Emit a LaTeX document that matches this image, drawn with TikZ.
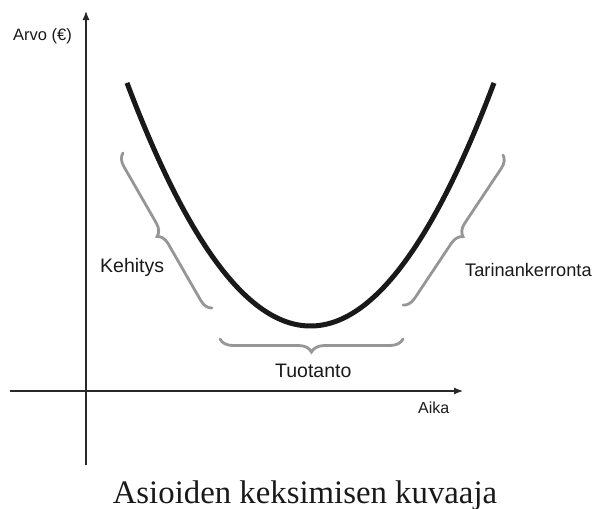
\documentclass[tikz,border=0pt]{standalone}
\usepackage{fontspec}
\setmainfont{Liberation Serif}
\newfontfamily\labelfont{Liberation Sans}
\usetikzlibrary{arrows.meta,decorations.pathreplacing}
\definecolor{bracegray}{RGB}{150,150,150}
\definecolor{axisgray}{RGB}{40,40,40}
\tikzset{
  axisline/.style={draw=axisgray, line width=1.2pt, -{Latex[length=9pt,width=7pt]}},
  bracepath/.style={draw=bracegray, line width=2.8pt, line cap=round, decorate,
    decoration={brace, amplitude=#1}},
  lbl/.style={inner sep=0pt, text=black!90, font=\labelfont\fontsize{#1}{#1}\selectfont},
}
\begin{document}
\begin{tikzpicture}[x=1pt, y=-1pt]
\useasboundingbox (0,0) rectangle (603,509);
% axes
\coordinate (ybot) at (86,465);
\coordinate (ytop) at (86,11);
\coordinate (xleft) at (10,391);
\coordinate (xright) at (463,391);
\draw[axisline] (ybot) -- (ytop);
\draw[axisline] (xleft) -- (xright);
% curve
\draw[line width=5pt, black!90] plot[domain=-1.835:1.835, samples=120, smooth] ({310.5+100*\x},{326-72.2*\x*\x});
% braces
\coordinate (lbTop) at (123,153);
\coordinate (lbBot) at (212,308);
\coordinate (rbTop) at (503,155);
\coordinate (rbBot) at (403,305);
\coordinate (bbL) at (220,339);
\coordinate (bbR) at (403,339);
\draw[bracepath=12pt] (lbBot) -- (lbTop);
\draw[bracepath=12pt] (rbTop) -- (rbBot);
\draw[bracepath=13pt] (bbR) -- (bbL);
% labels
\node[lbl=16.5, anchor=base west] (arvo) at (13,40) {Arvo (€)};
\node[lbl=16, anchor=base west] (aika) at (418,413) {Aika};
\node[lbl=19.5, anchor=base west] (kehitys) at (100,272) {Kehitys};
\node[lbl=18.2, anchor=base west] (tarina) at (465,276) {Tarinankerronta};
\node[lbl=19.5, anchor=base west] (tuotanto) at (275,377) {Tuotanto};
\node[inner sep=0pt, anchor=base, font=\fontsize{32.8}{32.8}\selectfont, text=black!90] (caption) at (305,503) {Asioiden keksimisen kuvaaja};
\end{tikzpicture}
\end{document}
